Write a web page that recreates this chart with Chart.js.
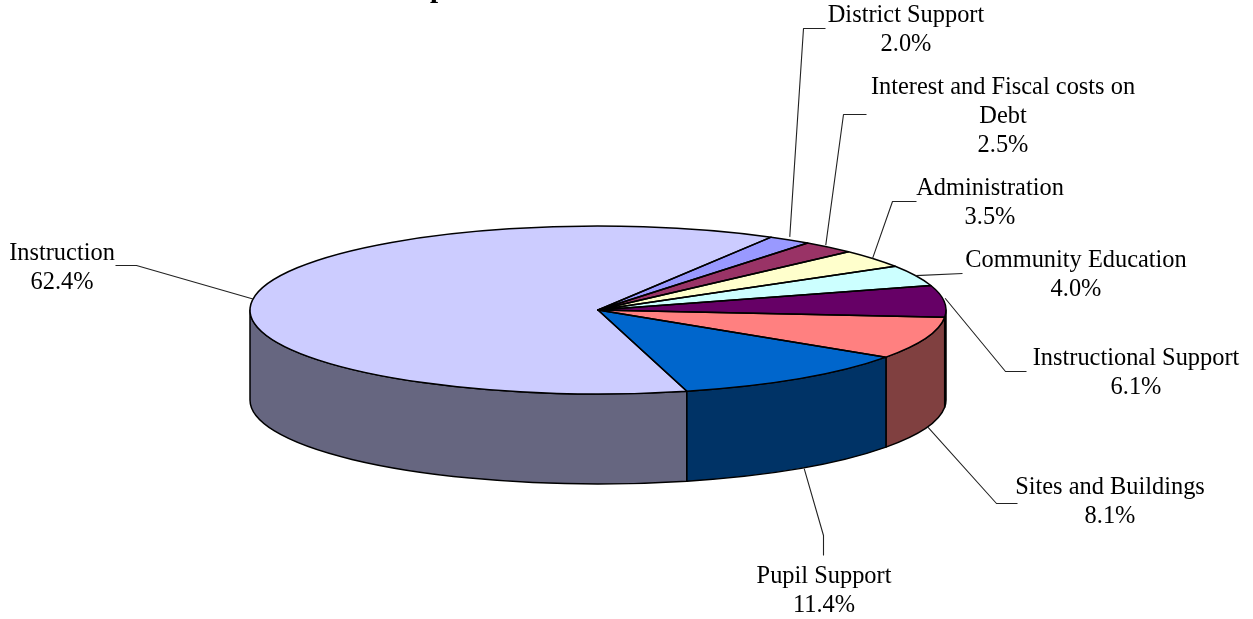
<!DOCTYPE html>
<html>
<head>
<meta charset="utf-8">
<style>html,body{margin:0;padding:0;background:#fff;overflow:hidden}canvas{display:block}</style>
<script src="https://cdn.jsdelivr.net/npm/chart.js@4"></script>
</head>
<body>
<canvas id="c" width="1253" height="619"></canvas>
<script>
// Data
const categories = ["Instruction","District Support","Interest and Fiscal costs on Debt","Administration","Community Education","Instructional Support","Sites and Buildings","Pupil Support"];
const shares = [62.4,2.0,2.5,3.5,4.0,6.1,8.1,11.4];
const shareLabels = ["62.4%","2.0%","2.5%","3.5%","4.0%","6.1%","8.1%","11.4%"];
const topColors = ["#CCCCFF","#9999FF","#993366","#FFFFCC","#CCFFFF","#660066","#FF8080","#0066CC"];
const wallColors = ["#666680","#4D4D80","#4D1A33","#808066","#668080","#330033","#804040","#003366"];
const titleFragment = "p";

// Layout
const labelLines = [["Instruction"],["District Support"],["Interest and Fiscal costs on","Debt"],["Administration"],["Community Education"],["Instructional Support"],["Sites and Buildings"],["Pupil Support"]];
const labelCenters = [[62,254],[906,16],[1003,88],[990,189],[1076,261],[1136,359],[1110,488],[824,577]];
const leaderPoints = [[[115,265],[136,265]],[[825,28],[803,28]],[[866,114],[843,114]],[[916,201],[892,201]],[[962,273]],[[1026,371],[1005,371]],[[1017,503],[996,503]],[[823,555],[823,535]]];
const anchorNudges = [[0,0],[0,-3],[-3,-2],[-1,0],[0,0],[1,-3],[2,-1],[5,0]];
const CX=598, CY=310, RX=348, RY=84, DEPTH=90, LINE=29;
const FONT='24.4px "Liberation Serif"';

const pt=(a,dy=0)=>[CX+RX*Math.cos(a),CY+RY*Math.sin(a)+dy];
const norm=a=>{const t=2*Math.PI;return ((a%t)+t)%t;};

const pie3d={
  id:'pie3d',
  beforeDatasetsDraw(chart){
    const ctx=chart.ctx, arcs=chart.getDatasetMeta(0).data;
    ctx.save();
    ctx.lineWidth=1.5; ctx.strokeStyle='#000'; ctx.lineJoin='round';
    arcs.forEach((arc,i)=>{
      const a0=norm(arc.startAngle), a1=a0+(arc.endAngle-arc.startAngle);
      [[a0,a1],[a0-2*Math.PI,a1-2*Math.PI]].forEach(([s,e])=>{
        const p=Math.max(s,0), q=Math.min(e,Math.PI);
        if(q<=p) return;
        ctx.beginPath();
        ctx.moveTo(...pt(p));
        ctx.ellipse(CX,CY,RX,RY,0,p,q);
        ctx.lineTo(...pt(q,DEPTH));
        ctx.ellipse(CX,CY+DEPTH,RX,RY,0,q,p,true);
        ctx.closePath();
        ctx.fillStyle=wallColors[i];
        ctx.fill(); ctx.stroke();
      });
    });
    ctx.restore();
    const a=arcs[0];
    ctx.save();
    ctx.translate(CX,CY);
    ctx.scale(RX/a.outerRadius,RY/a.outerRadius);
    ctx.translate(-a.x,-a.y);
  },
  afterDatasetsDraw(chart){
    const ctx=chart.ctx, arcs=chart.getDatasetMeta(0).data;
    ctx.restore();
    ctx.save();
    ctx.lineWidth=1.5; ctx.strokeStyle='#000'; ctx.lineJoin='round';
    arcs.forEach(arc=>{
      ctx.beginPath();
      ctx.moveTo(CX,CY);
      ctx.lineTo(...pt(arc.startAngle));
      ctx.ellipse(CX,CY,RX,RY,0,arc.startAngle,arc.endAngle);
      ctx.closePath();
      ctx.stroke();
    });
    // leaders
    ctx.lineWidth=1.1; ctx.strokeStyle='#222';
    arcs.forEach((arc,i)=>{
      const mid=norm((arc.startAngle+arc.endAngle)/2);
      const front=mid>0&&mid<Math.PI;
      const anchor=pt(mid,front?DEPTH:0);
      ctx.beginPath();
      ctx.moveTo(anchor[0]+anchorNudges[i][0],anchor[1]+anchorNudges[i][1]);
      leaderPoints[i].slice().reverse().forEach(p=>ctx.lineTo(p[0]+.5,p[1]+.5));
      ctx.stroke();
    });
    // text
    ctx.fillStyle='#000'; ctx.font=FONT; ctx.textAlign='center'; ctx.textBaseline='middle';
    labelLines.forEach((lines,i)=>{
      const [x,y]=labelCenters[i];
      lines.concat(shareLabels[i]).forEach((t,j)=>ctx.fillText(t,x,y+j*LINE));
    });
    // the only part of the title that falls inside the picture
    ctx.font='bold 29px "Liberation Serif"'; ctx.textBaseline='alphabetic';
    ctx.fillText(titleFragment,438,-3.5);
    ctx.restore();
  }
};

new Chart(document.getElementById('c'),{
  type:'pie',
  data:{labels:categories,datasets:[{data:shares,backgroundColor:topColors,borderWidth:0}]},
  options:{
    responsive:false,animation:false,rotation:165.2,
    layout:{padding:0},
    plugins:{legend:{display:false},tooltip:{enabled:false},title:{display:false}}
  },
  plugins:[pie3d]
});
</script>
</body>
</html>
